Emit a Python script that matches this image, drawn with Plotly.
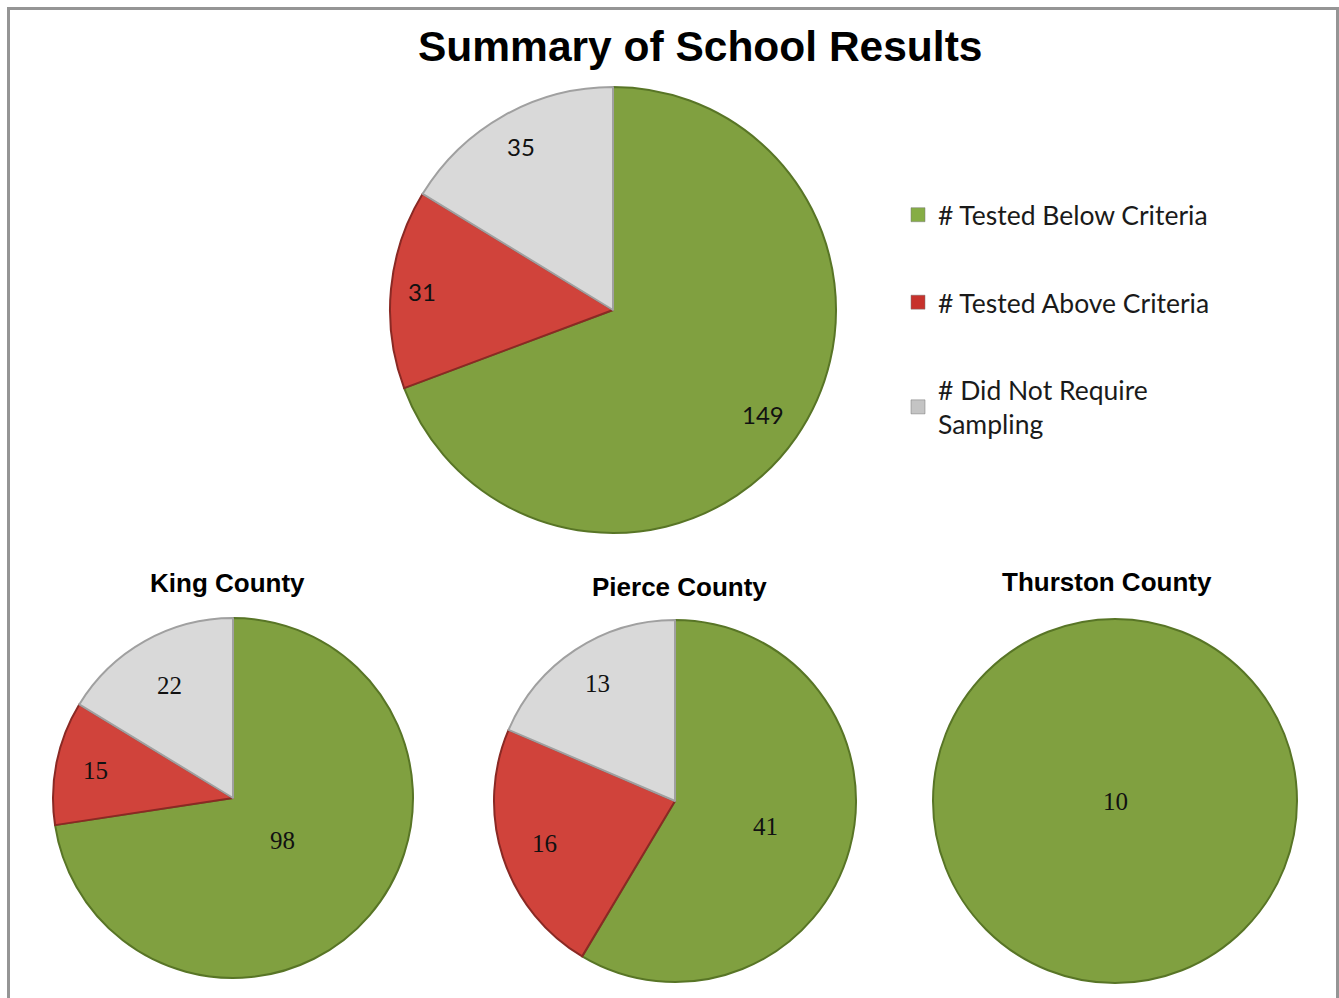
import math
import plotly.graph_objects as go

# ---- data -------------------------------------------------------------
categories = ["# Tested Below Criteria", "# Tested Above Criteria", "# Did Not Require<br>Sampling"]
summary_values = [149, 31, 35]
king_values = [98, 15, 22]
pierce_values = [41, 16, 13]
thurston_values = [10, 0, 0]

chart_title = "Summary of School Results"
county_titles = ["King County", "Pierce County", "Thurston County"]

# ---- style ------------------------------------------------------------
W, H = 1339, 998
slice_colors = ["#80a040", "#d0433b", "#d9d9d9"]
edge_colors = ["#587526", "#8a2924", "#a0a0a0"]
legend_colors = ["#86ad45", "#c7322c", "#c4c4c4"]

SANS = "Lato, 'Open Sans', sans-serif"
SERIF = "'Liberation Serif', 'Times New Roman', serif"
BOLD = "'Liberation Sans', Arial, sans-serif"

# pie placement in pixels: centre x, centre y, radius; lab_r = label distance
# from the centre as a fraction of the radius, per slice
pies = [
    dict(values=summary_values, cx=613, cy=310, r=223, font=SANS, size=24,
         lab_r=[0.82, 0.86, 0.84]),
    dict(values=king_values, cx=233, cy=798, r=180, font=SERIF, size=25,
         lab_r=[0.36, 0.78, 0.72]),
    dict(values=pierce_values, cx=675, cy=801, r=181, font=SERIF, size=25,
         lab_r=[0.52, 0.76, 0.78]),
    dict(values=thurston_values, cx=1115, cy=801, r=182, font=SERIF, size=25,
         lab_r=[0.0, 0.8, 0.8]),
]


def px_x(x):
    return x / W


def px_y(y):
    return 1 - y / H


fig = go.Figure()
annotations = []

for p in pies:
    vals = p["values"]
    keep = [i for i, v in enumerate(vals) if v > 0]
    fig.add_trace(go.Pie(
        labels=[categories[i] for i in keep],
        values=[vals[i] for i in keep],
        sort=False,
        direction="clockwise",
        rotation=0,
        textinfo="none",
        showlegend=False,
        hoverinfo="label+value",
        marker=dict(colors=[slice_colors[i] for i in keep],
                    line=dict(color=[edge_colors[i] for i in keep], width=2)),
        domain=dict(x=[px_x(p["cx"] - p["r"]), px_x(p["cx"] + p["r"])],
                    y=[px_y(p["cy"] + p["r"]), px_y(p["cy"] - p["r"])]),
    ))
    # value labels placed along each slice's bisector
    total = sum(vals)
    start = 0.0
    for i, v in enumerate(vals):
        if v <= 0:
            continue
        sweep = 360.0 * v / total
        mid = math.radians(start + sweep / 2)
        start += sweep
        rr = p["lab_r"][i] * p["r"] if sweep < 360 else 0
        x = p["cx"] + math.sin(mid) * rr
        y = p["cy"] - math.cos(mid) * rr
        annotations.append(dict(
            x=px_x(x), y=px_y(y), xref="paper", yref="paper",
            text=str(v), showarrow=False, xanchor="center", yanchor="middle",
            font=dict(family=p["font"], size=p["size"], color="#111111"),
        ))

# legend entries as square swatches
for name, col in zip(categories, legend_colors):
    fig.add_trace(go.Scatter(
        x=[None], y=[None], mode="markers", name=name, legendgroup=name,
        marker=dict(symbol="square", size=14, color=col,
                    line=dict(color="#777777", width=0.5)),
    ))

# titles
annotations.append(dict(
    x=px_x(700), y=px_y(47), xref="paper", yref="paper", text=f"<b>{chart_title}</b>",
    showarrow=False, xanchor="center", yanchor="middle",
    font=dict(family=BOLD, size=42.5, color="#000000"),
))
for t, (tx, ty) in zip(county_titles, [(227, 583), (679, 587), (1107, 582)]):
    annotations.append(dict(
        x=px_x(tx), y=px_y(ty), xref="paper", yref="paper", text=f"<b>{t}</b>",
        showarrow=False, xanchor="center", yanchor="middle",
        font=dict(family=BOLD, size=26, color="#000000"),
    ))

fig.update_layout(
    width=W, height=H,
    margin=dict(l=0, r=0, t=0, b=0),
    paper_bgcolor="white", plot_bgcolor="white",
    xaxis=dict(visible=False), yaxis=dict(visible=False),
    annotations=annotations,
    showlegend=True,
    legend=dict(
        x=px_x(898), y=px_y(191), xanchor="left", yanchor="top",
        traceorder="grouped", tracegroupgap=50, itemwidth=30,
        bgcolor="rgba(0,0,0,0)",
        font=dict(family=SANS, size=26.5, color="#1a1a1a"),
    ),
    shapes=[dict(
        type="rect", xref="paper", yref="paper",
        x0=px_x(8.5), x1=px_x(1337.5), y0=-0.05, y1=px_y(8.5),
        line=dict(color="#959595", width=3), fillcolor="rgba(0,0,0,0)",
    )],
)

fig.write_html("out.html")
